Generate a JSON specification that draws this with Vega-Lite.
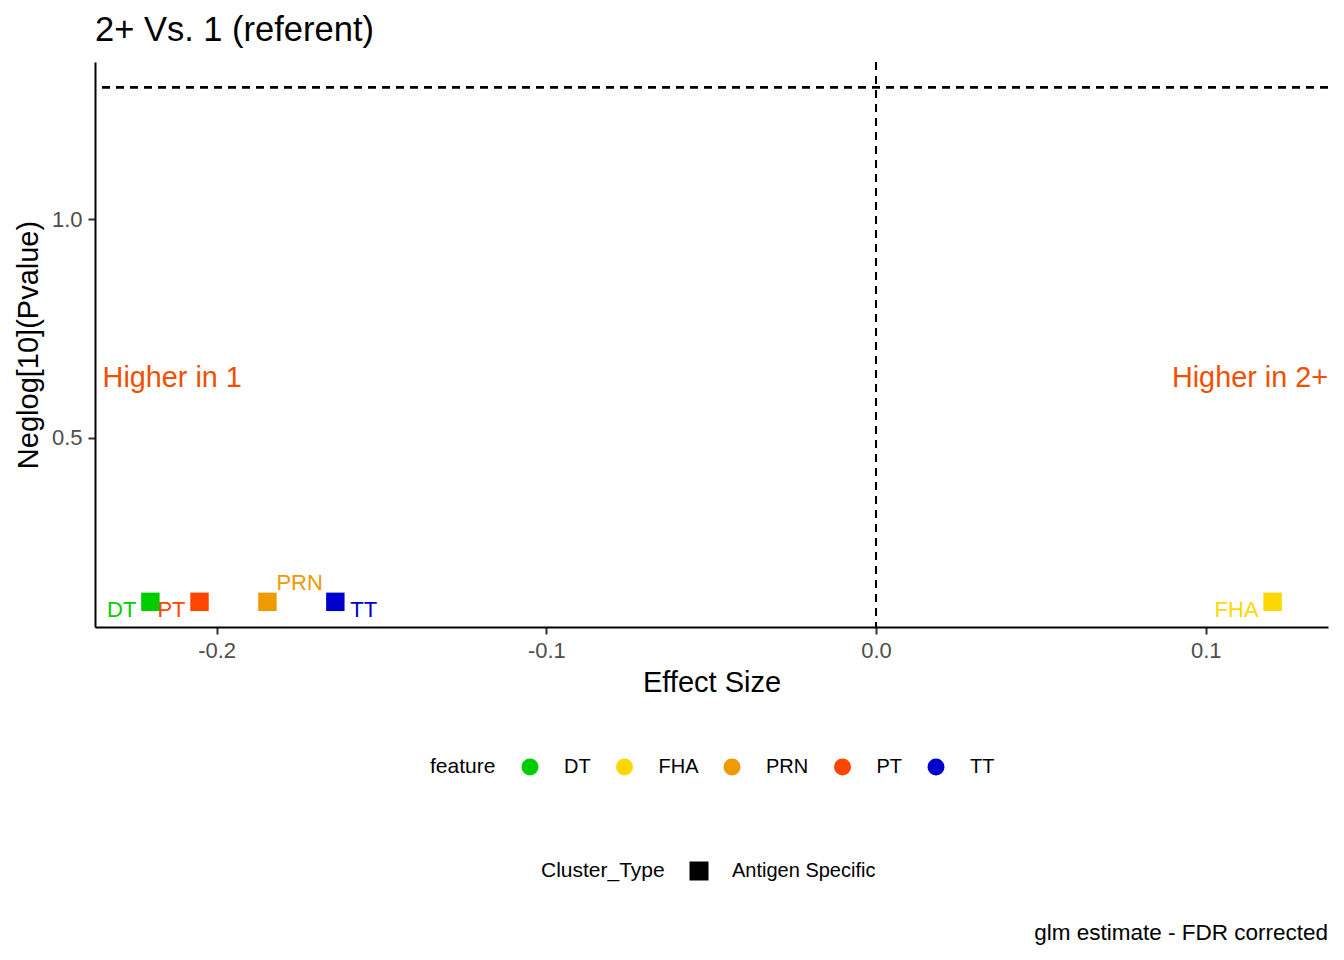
{
  "$schema": "https://vega.github.io/schema/vega-lite/v6.json",
  "autosize": "none",
  "padding": {"left": 95, "top": 62, "right": 16, "bottom": 333},
  "width": 1233,
  "height": 565,
  "background": "white",
  "title": {
    "text": "2+ Vs. 1 (referent)",
    "anchor": "start",
    "frame": "group",
    "fontSize": 34.5,
    "fontWeight": "normal",
    "font": "Liberation Sans",
    "color": "black",
    "offset": 13
  },
  "config": {
    "view": {"stroke": null},
    "font": "Liberation Sans",
    "axis": {
      "grid": false,
      "domainColor": "black",
      "domainWidth": 2,
      "tickColor": "#333333",
      "tickWidth": 2,
      "tickSize": 7,
      "labelFont": "Liberation Sans",
      "labelFontSize": 22,
      "labelColor": "#4D4D4D",
      "titleFont": "Liberation Sans",
      "titleFontSize": 29,
      "titleFontWeight": "normal",
      "titleColor": "black"
    }
  },
  "data": {
    "values": [
      {"feature": "DT", "Cluster_Type": "Antigen Specific", "effect": -0.2201, "neglog": 0.1255},
      {"feature": "PT", "Cluster_Type": "Antigen Specific", "effect": -0.2052, "neglog": 0.1255},
      {"feature": "PRN", "Cluster_Type": "Antigen Specific", "effect": -0.1846, "neglog": 0.1255},
      {"feature": "TT", "Cluster_Type": "Antigen Specific", "effect": -0.164, "neglog": 0.1255},
      {"feature": "FHA", "Cluster_Type": "Antigen Specific", "effect": 0.1203, "neglog": 0.1255}
    ]
  },
  "encoding": {
    "x": {
      "field": "effect",
      "type": "quantitative",
      "title": "Effect Size",
      "scale": {"domain": [-0.2369, 0.1371], "nice": false, "zero": false},
      "axis": {"values": [-0.2, -0.1, 0, 0.1], "labelExpr": "replace(format(datum.value, '.1f'), '\u2212', '-')", "labelPadding": 6, "titlePadding": 7}
    },
    "y": {
      "field": "neglog",
      "type": "quantitative",
      "title": "Neglog[10](Pvalue)",
      "scale": {"domain": [0.068, 1.359], "nice": false, "zero": false},
      "axis": {"values": [0.5, 1.0], "format": ".1f", "labelPadding": 6, "titlePadding": 8}
    },
    "color": {
      "field": "feature",
      "type": "nominal",
      "scale": {
        "domain": ["DT", "FHA", "PRN", "PT", "TT"],
        "range": ["#00CD00", "#FFD700", "#EE9A00", "#FF4500", "#0000CD"]
      },
      "legend": {
        "title": "feature",
        "orient": "none",
        "direction": "horizontal",
        "legendX": 335,
        "legendY": 695,
        "titleOrient": "left",
        "titleFontSize": 21,
        "titleFontWeight": "normal",
        "titleColor": "black",
        "titlePadding": 24,
        "titleBaseline": "middle",
        "labelFontSize": 20,
        "labelColor": "black",
        "labelOffset": 24,
        "columnPadding": 23.5,
        "symbolType": "circle",
        "symbolSize": 289,
        "symbolOpacity": 1,
        "symbolStrokeWidth": 0
      }
    }
  },
  "layer": [
    {
      "mark": {"type": "rule", "strokeDash": [8, 6], "strokeWidth": 2, "color": "black"},
      "encoding": {"y": {"datum": 1.30103}, "x": null, "color": null}
    },
    {
      "mark": {"type": "rule", "strokeDash": [8, 6], "strokeWidth": 2, "color": "black"},
      "encoding": {"x": {"datum": 0}, "y": null, "color": null}
    },
    {
      "mark": {"type": "point", "filled": true, "opacity": 1, "size": 340},
      "encoding": {
        "shape": {
          "field": "Cluster_Type",
          "type": "nominal",
          "scale": {"range": ["square"]},
          "legend": {
            "title": "Cluster_Type",
            "orient": "none",
            "direction": "horizontal",
            "legendX": 446,
            "legendY": 799,
            "titleOrient": "left",
            "titleFontSize": 21,
            "titleFontWeight": "normal",
            "titleColor": "black",
            "titlePadding": 24,
            "titleBaseline": "middle",
            "labelFontSize": 20,
            "labelColor": "black",
            "labelOffset": 23,
            "symbolSize": 361,
            "symbolFillColor": "black",
            "symbolStrokeColor": "black",
            "symbolStrokeWidth": 0,
            "symbolOpacity": 1
          }
        }
      }
    },
    {
      "transform": [{"filter": "datum.feature === 'DT' || datum.feature === 'PT' || datum.feature === 'FHA'"}],
      "mark": {"type": "text", "align": "right", "baseline": "middle", "dx": -14, "dy": 8, "fontSize": 22},
      "encoding": {"text": {"field": "feature"}}
    },
    {
      "transform": [{"filter": "datum.feature === 'TT'"}],
      "mark": {"type": "text", "align": "left", "baseline": "middle", "dx": 15, "dy": 8, "fontSize": 22},
      "encoding": {"text": {"field": "feature"}}
    },
    {
      "transform": [{"filter": "datum.feature === 'PRN'"}],
      "mark": {"type": "text", "align": "left", "baseline": "middle", "dx": 9, "dy": -19, "fontSize": 22},
      "encoding": {"text": {"field": "feature"}}
    },
    {
      "transform": [{"filter": "datum.feature === 'DT'"}],
      "mark": {"type": "text", "align": "left", "baseline": "middle", "fontSize": 28.8, "color": "#F05000"},
      "encoding": {"x": {"datum": -0.2346}, "y": {"datum": 0.637}, "text": {"value": "Higher in 1"}, "color": null}
    },
    {
      "transform": [{"filter": "datum.feature === 'DT'"}],
      "mark": {"type": "text", "align": "right", "baseline": "middle", "fontSize": 28.8, "color": "#F05000"},
      "encoding": {"x": {"datum": 0.1371}, "y": {"datum": 0.637}, "text": {"value": "Higher in 2+"}, "color": null}
    },
    {
      "transform": [{"filter": "datum.feature === 'DT'"}],
      "mark": {"type": "text", "align": "right", "baseline": "middle", "fontSize": 22.5, "color": "black", "dy": 306},
      "encoding": {"x": {"datum": 0.1371}, "y": {"datum": 0.068}, "text": {"value": "glm estimate - FDR corrected"}, "color": null}
    }
  ]
}
